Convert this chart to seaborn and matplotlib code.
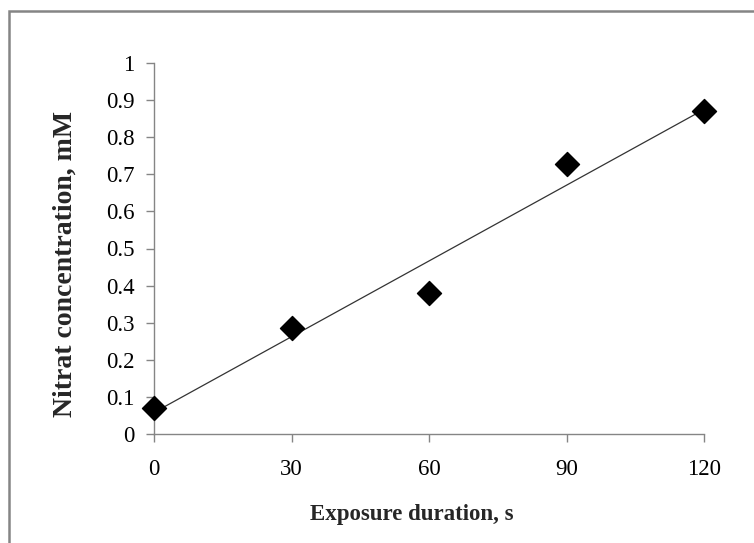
import matplotlib
matplotlib.use('Agg')
import matplotlib.pyplot as plt
import seaborn as sns
import pandas as pd
from matplotlib.patches import Rectangle

# data
exposure = [0, 30, 60, 90, 120]
nitrate = [0.07, 0.285, 0.38, 0.727, 0.87]
nitrate_err = [0.01, 0.012, 0.018, 0.022, 0.018]
x_ticks = [0, 30, 60, 90, 120]
y_ticks = [0, 0.1, 0.2, 0.3, 0.4, 0.5, 0.6, 0.7, 0.8, 0.9, 1]
y_tick_labels = ['0', '0.1', '0.2', '0.3', '0.4', '0.5', '0.6', '0.7', '0.8', '0.9', '1']

df = pd.DataFrame({'exposure': exposure, 'nitrate': nitrate})

sns.set_style('white')
plt.rcParams['font.family'] = ['Liberation Serif', 'DejaVu Serif']

fig = plt.figure(figsize=(7.54, 5.43), dpi=100)
ax = fig.add_axes([154/754, 1-434/543, 550/754, 371/543])

# outer chart border (Excel style)
fig.patches.append(Rectangle((9/754, -0.05), 1.2, 1-11/543+0.05, transform=fig.transFigure,
                             fill=False, edgecolor='#858585', linewidth=1.8))

# linear trendline
sns.regplot(data=df, x='exposure', y='nitrate', ax=ax, scatter=False, ci=None,
            line_kws={'color': '#333333', 'linewidth': 0.9})
ax.errorbar(exposure, nitrate, yerr=nitrate_err, fmt='none', ecolor='black',
            elinewidth=1, capsize=0, zorder=3)
sns.scatterplot(data=df, x='exposure', y='nitrate', ax=ax, marker='D', s=150,
                color='black', edgecolor='black', zorder=4, clip_on=False)

ax.set_xlim(0, 120)
ax.set_ylim(0, 1)
ax.set_xticks(x_ticks)
ax.set_yticks(y_ticks)
ax.set_yticklabels(y_tick_labels)
ax.tick_params(axis='both', labelsize=16.5, colors='#858585', labelcolor='black',
               length=6, width=1, direction='out', left=True, bottom=True)
ax.tick_params(axis='x', pad=12)
ax.tick_params(axis='y', pad=8)

for s in ['top', 'right']:
    ax.spines[s].set_visible(False)
for s in ['left', 'bottom']:
    ax.spines[s].set_color('#858585')
    ax.spines[s].set_linewidth(1)

ax.set_xlabel('Exposure duration, s', fontsize=16.5, fontweight='bold')
ax.xaxis.set_label_coords(0.469, -0.19)
ax.set_ylabel('Nitrat concentration, mM', fontsize=20, fontweight='bold')
ax.yaxis.set_label_coords(-0.138, 0.458)

fig.savefig('out.png', dpi=100)
